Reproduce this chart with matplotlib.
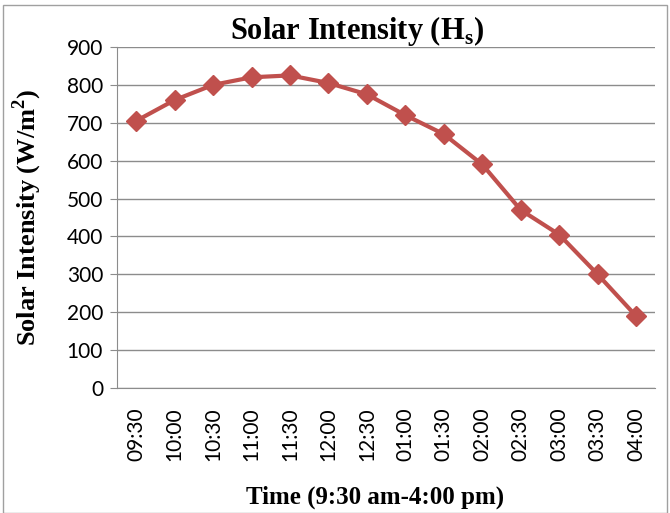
import matplotlib.pyplot as plt
from matplotlib.patches import Rectangle

# chart data
times = ["09:30", "10:00", "10:30", "11:00", "11:30", "12:00", "12:30",
         "01:00", "01:30", "02:00", "02:30", "03:00", "03:30", "04:00"]
intensity = [705, 760, 800, 820, 825, 805, 775, 720, 670, 590, 470, 405, 300, 190]
y_ticks = [0, 100, 200, 300, 400, 500, 600, 700, 800, 900]

line_color = "#C0504D"
grid_color = "#8C8C8C"

plt.rcParams["mathtext.fontset"] = "custom"
plt.rcParams["mathtext.bf"] = "Liberation Serif:bold"
plt.rcParams["mathtext.rm"] = "Liberation Serif"

fig = plt.figure(figsize=(6.7, 5.13), dpi=100)
ax = fig.add_axes([0.1746, 0.2437, 0.8034, 0.6647])

x = list(range(len(times)))
ax.plot(x, intensity, color=line_color, lw=3, marker="D", ms=10,
        markeredgecolor=line_color, zorder=3)

ax.set_xlim(-0.5, len(times) - 0.5)
ax.set_ylim(0, 900)
ax.set_yticks(y_ticks)
ax.set_xticks(x)
ax.set_xticklabels(times, rotation=90)
ax.yaxis.grid(True, color=grid_color, lw=1)
ax.set_axisbelow(True)

for s in ["top", "right"]:
    ax.spines[s].set_visible(False)
for s in ["left", "bottom"]:
    ax.spines[s].set_color(grid_color)
ax.tick_params(axis="y", length=5, color=grid_color, labelsize=15, pad=5)
ax.tick_params(axis="x", length=0, labelsize=15, pad=14)
for lbl in ax.get_xticklabels() + ax.get_yticklabels():
    lbl.set_family("Lato")

# title sits a bit left of the axes centre, as in the original
fig.text(0.533, 0.94, r"Solar Intensity (H$_\mathbf{s}$)", fontsize=22,
         fontweight="bold", family="Liberation Serif", ha="center", va="center")
ax.set_xlabel("Time (9:30 am-4:00 pm)", fontsize=18, fontweight="bold",
              family="Liberation Serif", labelpad=16)
ax.xaxis.set_label_coords(0.48, -0.285)
ax.set_ylabel(r"Solar Intensity (W/m$^\mathbf{2}$)", fontsize=19, fontweight="bold",
              family="Liberation Serif", labelpad=16)

# figure border
fig.patches.append(Rectangle((0.004, 0.0), 0.992, 0.99, transform=fig.transFigure,
                             fill=False, edgecolor="#A0A0A0", lw=1))

fig.savefig("out.png", dpi=100)
